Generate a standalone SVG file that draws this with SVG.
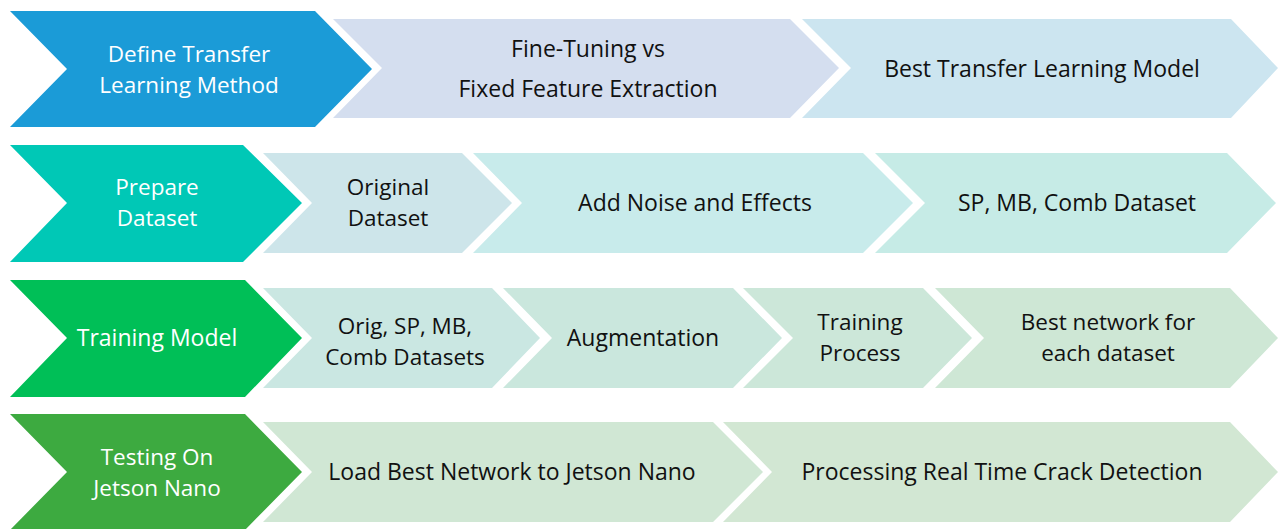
<svg xmlns="http://www.w3.org/2000/svg" width="1279" height="529" viewBox="0 0 1279 529">
<style>
text{font-family:"Open Sans","Noto Sans","DejaVu Sans",sans-serif;font-size:23px;text-anchor:middle}
.t2{font-size:22.5px}
.w{fill:#ffffff}
.k{fill:#111111}
</style>
<rect width="1279" height="529" fill="#ffffff"/>
<g id="connectors"/>
<!-- Row 1 -->
<g id="define-transfer">
<polygon points="10,11 315,11 372,69 315,127 10,127 67,69" fill="#1B9BD7"/>
<text class="w t2" x="189" y="61.5">Define Transfer</text>
<text class="w t2" x="189" y="92.5">Learning Method</text>
</g>
<g id="fine-tuning">
<polygon points="333,19 790,19 839,68 790,118 333,118 382,68" fill="#D4DEEF"/>
<text class="k" x="588" y="57">Fine-Tuning vs</text>
<text class="k" x="588" y="97">Fixed Feature Extraction</text>
</g>
<g id="best-transfer">
<polygon points="802,19 1231,19 1278,68 1231,118 802,118 851,68" fill="#CCE5F0"/>
<text class="k" x="1042" y="77">Best Transfer Learning Model</text>
</g>
<!-- Row 2 -->
<g id="prepare-dataset">
<polygon points="10,145 243,145 302,203 243,262 10,262 67,203" fill="#00C8B6"/>
<text class="w t2" x="157" y="194.5">Prepare</text>
<text class="w t2" x="157" y="225.5">Dataset</text>
</g>
<g id="original-dataset">
<polygon points="263,153 462,153 512,203 462,253 263,253 312,203" fill="#CDE5EA"/>
<text class="k t2" x="388" y="194.5">Original</text>
<text class="k t2" x="388" y="225.5">Dataset</text>
</g>
<g id="add-noise">
<polygon points="473,153 863,153 913,203 863,253 473,253 522,203" fill="#C8EBEB"/>
<text class="k" x="695" y="211">Add Noise and Effects</text>
</g>
<g id="sp-mb-comb">
<polygon points="875,153 1227,153 1276,203 1227,253 875,253 925,203" fill="#C6EBE6"/>
<text class="k" x="1077" y="211">SP, MB, Comb Dataset</text>
</g>
<!-- Row 3 -->
<g id="training-model">
<polygon points="10,280 245,280 302,338 245,397 10,397 67,338" fill="#00BF57"/>
<text class="w" x="157" y="346">Training Model</text>
</g>
<g id="orig-datasets">
<polygon points="263,288 492,288 540,338 492,388 263,388 312,338" fill="#CAE7E2"/>
<text class="k t2" x="405" y="334">Orig, SP, MB,</text>
<text class="k t2" x="405" y="365">Comb Datasets</text>
</g>
<g id="augmentation">
<polygon points="503,288 733,288 782,338 733,388 503,388 552,338" fill="#CAE7DD"/>
<text class="k" x="643" y="346">Augmentation</text>
</g>
<g id="training-process">
<polygon points="743,288 923,288 972,338 923,388 743,388 793,338" fill="#CCE7D9"/>
<text class="k t2" x="860" y="329.5">Training</text>
<text class="k t2" x="860" y="360.5">Process</text>
</g>
<g id="best-network">
<polygon points="935,288 1230,288 1278,338 1230,388 935,388 984,338" fill="#CEE7D5"/>
<text class="k t2" x="1108" y="329.5">Best network for</text>
<text class="k t2" x="1108" y="360.5">each dataset</text>
</g>
<!-- Row 4 -->
<g id="testing-jetson">
<polygon points="10,414 245,414 302,472 245,530 10,530 67,472" fill="#3DAA40"/>
<text class="w t2" x="157" y="464.5">Testing On</text>
<text class="w t2" x="157" y="495.5">Jetson Nano</text>
</g>
<g id="load-best">
<polygon points="263,422 713,422 763,472 713,522 263,522 312,472" fill="#D0E7D4"/>
<text class="k" x="512" y="480">Load Best Network to Jetson Nano</text>
</g>
<g id="processing">
<polygon points="723,422 1230,422 1278,472 1230,522 723,522 772,472" fill="#D2E7D3"/>
<text class="k" x="1002" y="480">Processing Real Time Crack Detection</text>
</g>
</svg>
